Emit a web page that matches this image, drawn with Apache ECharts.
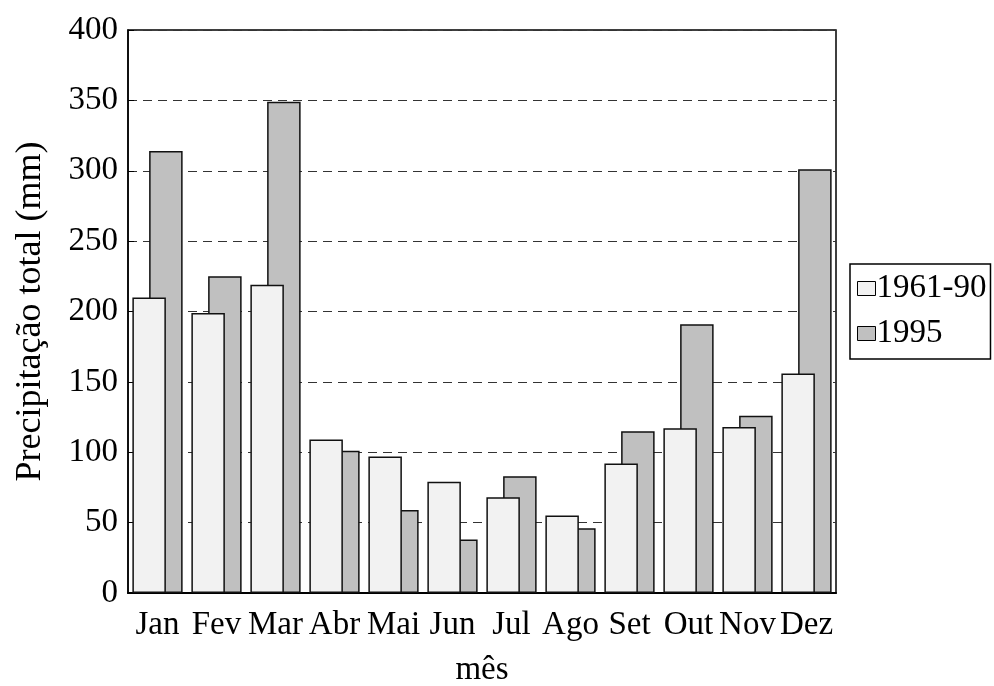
<!DOCTYPE html>
<html>
<head>
<meta charset="utf-8">
<script src="https://cdn.jsdelivr.net/npm/echarts@6/dist/echarts.min.js"></script>
<style>
  html, body { margin: 0; padding: 0; background: #fff; }
  #chart { width: 994px; height: 686px; }
</style>
</head>
<body>
<div id="chart"></div>
<script>
// monthly precipitation (mm)
const months = ['Jan', 'Fev', 'Mar', 'Abr', 'Mai', 'Jun', 'Jul', 'Ago', 'Set', 'Out', 'Nov', 'Dez']
const normal6190 = [210, 199, 219, 109, 97, 79, 68, 55, 92, 117, 118, 156]
const year1995 = [314, 225, 349, 101, 59, 38, 83, 46, 115, 191, 126, 301]

const serif = '"Liberation Serif", "DejaVu Serif", serif'
const chart = echarts.init(document.getElementById('chart'))

chart.setOption({
  animation: false,
  textStyle: { fontFamily: serif, color: '#000' },
  grid: {
    left: 128, top: 30, right: 158, bottom: 93,
    outerBoundsMode: 'none',
    containLabel: false,
    show: true, borderColor: '#000', borderWidth: 1.5
  },
  legend: {
    orient: 'vertical',
    left: 850, top: 264,
    padding: [8, 4, 9, 7],
    itemGap: 12,
    itemWidth: 18, itemHeight: 14,
    icon: 'rect',
    itemStyle: { borderColor: '#000', borderWidth: 1 },
    borderColor: '#000', borderWidth: 1.5,
    textStyle: { fontFamily: serif, fontSize: 33, color: '#000', padding: [0, 0, 0, -4] },
    data: ['1961-90', '1995']
  },
  xAxis: {
    type: 'category',
    data: months,
    name: 'mês',
    nameLocation: 'middle',
    nameGap: 61,
    nameTextStyle: { fontFamily: serif, fontSize: 33, color: '#000' },
    axisLine: { lineStyle: { color: '#000', width: 2 } },
    axisTick: { show: false },
    axisLabel: { fontFamily: serif, fontSize: 33, color: '#000', margin: 16, interval: 0 }
  },
  yAxis: {
    type: 'value',
    min: 0, max: 400, interval: 50,
    name: 'Precipitação total (mm)',
    nameLocation: 'middle',
    nameGap: 79,
    nameTextStyle: { fontFamily: serif, fontSize: 36, color: '#000' },
    axisLine: { show: true, lineStyle: { color: '#000', width: 1.5 } },
    axisTick: { show: true, inside: true, length: 6, lineStyle: { color: '#000' } },
    axisLabel: { fontFamily: serif, fontSize: 33, color: '#000', margin: 10 },
    splitLine: { lineStyle: { color: '#333', type: [9, 6], width: 1 } }
  },
  series: [
    {
      name: '1961-90',
      type: 'bar',
      data: normal6190,
      barWidth: 33.5,
      barGap: '-50%',
      z: 3,
      itemStyle: { color: '#f2f2f2', borderColor: '#111', borderWidth: 1.5 }
    },
    {
      name: '1995',
      type: 'bar',
      data: year1995,
      barWidth: 33.5,
      z: 2,
      itemStyle: { color: '#c0c0c0', borderColor: '#111', borderWidth: 1.5 }
    }
  ]
})
</script>
</body>
</html>
